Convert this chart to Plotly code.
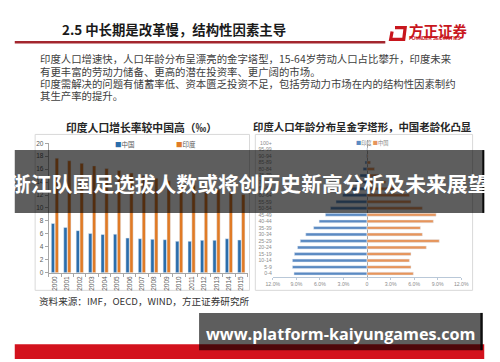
import plotly.graph_objects as go

# ---------------- data ----------------
years = [str(y) for y in range(2000, 2016)]
china_growth = [7.6, 7.0, 6.5, 6.05, 5.9, 5.95, 5.35, 5.25, 5.15, 5.1, 4.85, 4.85, 5.0, 5.0, 5.25, 5.05]
india_growth = [17.7, 17.3, 16.9, 16.5, 16.1, 15.8, 15.4, 15.0, 14.6, 14.2, 13.8, 13.5, 13.1, 12.8, 12.4, 12.1]

age_groups = ["0-4", "5-9", "10-14", "15-19", "20-24", "25-29", "30-34", "35-39", "40-44", "45-49",
              "50-54", "55-59", "60-64", "65-69", "70-74", "75-79", "80-84", "85-89", "90-94", "95-99", "100+"]
india_share = [9.3, 9.5, 9.5, 9.25, 8.85, 8.5, 7.8, 6.8, 6.1, 5.3, 4.65, 3.95, 3.1, 2.2, 1.5, 0.9, 0.5, 0.25, 0.06, 0.02, 0.0]
china_share = [5.9, 5.6, 5.4, 5.6, 7.55, 9.2, 7.05, 6.8, 8.45, 8.8, 7.05, 5.6, 5.4, 3.7, 2.4, 1.7, 0.95, 0.45, 0.12, 0.03, 0.0]

pyr_tickvals = [-12, -9, -6, -3, 0, 3, 6, 9, 12]
pyr_ticktext = ["12.0%", "9.0%", "6.0%", "3.0%", "0", "3.0%", "6.0%", "9.0%", "12.0%"]

W, H = 500, 362


def X(px):
    return px / W


def Y(py):
    return 1 - py / H


FONT = "Noto Sans CJK SC, sans-serif"

fig = go.Figure()

# left chart: growth rates
fig.add_trace(go.Bar(x=years, y=china_growth, name="中国", marker_color="#2b6dab",
                     width=0.27, offset=-0.29, xaxis="x", yaxis="y", showlegend=False))
fig.add_trace(go.Bar(x=years, y=india_growth, name="印度", marker_color="#e07b26",
                     width=0.27, offset=0.02, xaxis="x", yaxis="y", showlegend=False))

# right chart: population pyramid
fig.add_trace(go.Bar(y=age_groups, x=[-v for v in india_share], name="印度", orientation="h",
                     marker_color="#5b8ac2", width=0.45, offset=-0.225,
                     xaxis="x2", yaxis="y2", showlegend=False))
fig.add_trace(go.Bar(y=age_groups, x=china_share, name="中国", orientation="h",
                     marker_color="#e6955c", width=0.45, offset=-0.225,
                     xaxis="x2", yaxis="y2", showlegend=False))

shapes = []
# chart frames
shapes.append(dict(type="rect", xref="paper", yref="paper", x0=X(29), x1=X(250), y0=Y(292), y1=Y(133),
                   line=dict(color="#d9d9d9", width=1), layer="below"))
shapes.append(dict(type="rect", xref="paper", yref="paper", x0=X(256), x1=X(480), y0=Y(292), y1=Y(133),
                   line=dict(color="#d9d9d9", width=1), layer="below"))
# title underline
shapes.append(dict(type="line", xref="paper", yref="paper", x0=X(8), x1=X(390), y0=Y(39), y1=Y(39),
                   line=dict(color="#a3262e", width=2.5)))
# logo icon
shapes.append(dict(type="path", xref="paper", yref="paper",
                   path=f"M{X(397)},{Y(28)} L{X(395.5)},{Y(36)} L{X(409)},{Y(36)} L{X(410.5)},{Y(24)} L{X(400)},{Y(24)}",
                   line=dict(color="#c8161d", width=3.2)))
# red band at bottom
shapes.append(dict(type="rect", xref="paper", yref="paper", x0=X(8), x1=X(492), y0=Y(362), y1=Y(347),
                   fillcolor="#d3121d", line=dict(width=0)))
# overlay band (middle)
shapes.append(dict(type="rect", xref="paper", yref="paper", x0=X(8), x1=X(492), y0=Y(213), y1=Y(149),
                   fillcolor="rgba(0,0,0,0.63)", line=dict(width=0), layer="above"))
shapes.append(dict(type="rect", xref="paper", yref="paper", x0=X(490), x1=X(492), y0=Y(213), y1=Y(149),
                   fillcolor="rgba(0,0,0,0.9)", line=dict(width=0), layer="above"))
# overlay box (bottom)
shapes.append(dict(type="rect", xref="paper", yref="paper", x0=X(198), x1=X(490), y0=Y(353), y1=Y(315),
                   fillcolor="rgba(0,0,0,0.63)", line=dict(width=0), layer="above"))
shapes.append(dict(type="rect", xref="paper", yref="paper", x0=X(488), x1=X(490.5), y0=Y(353), y1=Y(315),
                   fillcolor="rgba(0,0,0,0.85)", line=dict(width=0), layer="above"))

ann = []


def txt(text, x, y, size, color="#333333", xanchor="left", bold=False, family=FONT):
    t = f"<b>{text}</b>" if bold else text
    ann.append(dict(text=t, x=X(x), y=Y(y), xref="paper", yref="paper", xanchor=xanchor, yanchor="middle",
                    showarrow=False, font=dict(size=size, color=color, family=family)))


txt("2.5 中长期是改革慢，结构性因素主导", 55, 25, 13.4, "#1a1a1a", bold=True)
txt("方正证券", 412, 27, 14.5, "#c8161d", bold=True)
txt("FOUNDER SECURITIES", 441.5, 35.3, 4.6, "#c8161d", xanchor="center", bold=True, family="Liberation Sans, Arial")

paras = ["印度人口增速快，人口年龄分布呈漂亮的金字塔型，15-64岁劳动人口占比攀升，印度未来",
         "有更丰富的劳动力储备、更高的潜在投资率、更广阔的市场。",
         "印度需解决的问题有储蓄率低、资本匮乏投资不足，包括劳动力市场在内的结构性因素制约",
         "其生产率的提升。"]
for s, yy in zip(paras, [56, 68.5, 81.5, 93.5]):
    txt(s, 32, yy, 10.4, "#404040")

txt("印度人口增长率较中国高（‰）", 139, 125, 10.8, "#262626", xanchor="center", bold=True)
txt("印度人口年龄分布呈金字塔形，中国老龄化凸显", 367, 124.5, 10.4, "#262626", xanchor="center", bold=True)

txt("<span style='color:#2b6dab'>■</span>中国", 109, 143, 6.5, "#595959")
txt("<span style='color:#e07b26'>■</span>印度", 172, 143, 6.5, "#595959")
txt("<span style='color:#5b8ac2'>■</span>印度 <span style='color:#e6955c'>■</span>中国", 358, 142, 5.2, "#7f7f7f")

txt("资料来源：IMF，OECD，WIND，方正证券研究所", 31, 303, 9.6, "#333333")

txt("浙江队国足选拔人数或将创历史新高分析及未来展望", 249, 183, 20.8, "#ffffff", xanchor="center", bold=True)
txt("www.platform-kaiyungames.com", 344, 337, 16.2, "#ffffff", xanchor="center", bold=True,
    family="Open Sans, sans-serif")

fig.update_layout(
    width=W, height=H, margin=dict(l=0, r=0, t=0, b=0),
    paper_bgcolor="white", plot_bgcolor="white",
    font=dict(family=FONT),
    barmode="group",
    shapes=shapes, annotations=ann,
    xaxis=dict(domain=[X(43), X(248)], type="category", tickangle=-90,
               tickfont=dict(size=6.5, color="#595959", family="Liberation Sans, Arial"),
               showline=True, linecolor="#a6a6a6", linewidth=1, ticks="outside", ticklen=3,
               tickcolor="#a6a6a6", tickson="boundaries", showgrid=False, anchor="y", fixedrange=True),
    yaxis=dict(domain=[Y(274), Y(142)], range=[0, 20], dtick=2,
               tickfont=dict(size=6.5, color="#595959", family="Liberation Sans, Arial"),
               showline=True, linecolor="#a6a6a6", linewidth=1, ticks="outside", ticklen=3,
               tickcolor="#a6a6a6", showgrid=False, zeroline=False, anchor="x"),
    xaxis2=dict(domain=[X(274), X(468.3)], range=[-12, 12], tickvals=pyr_tickvals, ticktext=pyr_ticktext,
                tickfont=dict(size=5.2, color="#8c8c8c", family="Liberation Sans, Arial"),
                showline=True, linecolor="#b9c8d8", linewidth=1, ticks="outside", ticklen=2,
                tickcolor="#b9c8d8", showgrid=False, zeroline=True, zerolinecolor="#a6a6a6",
                zerolinewidth=0.8, anchor="y2"),
    yaxis2=dict(domain=[Y(278.3), Y(138.3)], type="category", range=[-0.5, 20.5],
                tickfont=dict(size=5.2, color="#8c8c8c", family="Liberation Sans, Arial"),
                showline=False, showgrid=False, ticks="", anchor="x2"),
)

fig.write_html("out.html", config={"displayModeBar": False},
               post_script="document.body.style.margin='0px';document.body.style.overflow='hidden';")
